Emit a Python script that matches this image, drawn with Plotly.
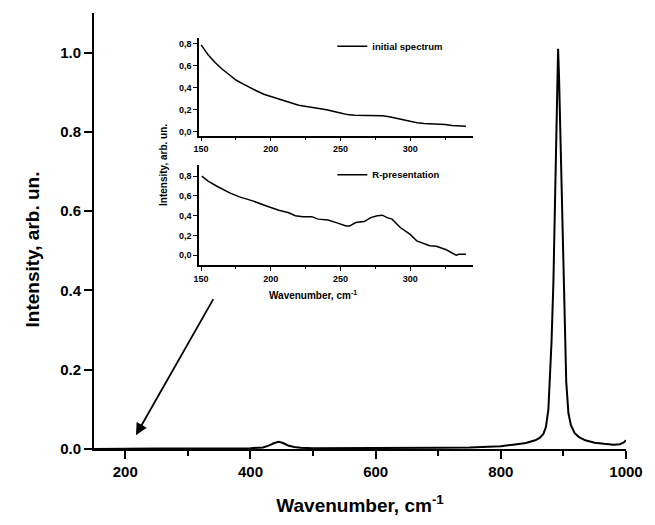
import plotly.graph_objects as go

# ---------------- data ----------------
# main spectrum
main_x = [150, 200, 250, 300, 350, 400, 420, 430, 438, 445, 452, 460, 470, 480, 500,
          550, 600, 650, 700, 750, 780, 800, 820, 840, 855, 862, 868, 872, 876,
          878, 881, 884, 886, 888, 890, 891.5, 893, 895, 897.5, 900, 902.5, 904.5,
          908, 912, 918, 925, 935, 950, 965, 980, 990, 996, 1000]
main_y = [0.000, 0.001, 0.001, 0.001, 0.001, 0.002, 0.004, 0.009, 0.015, 0.018, 0.015, 0.009, 0.005, 0.003, 0.002,
          0.002, 0.002, 0.002, 0.003, 0.004, 0.005, 0.007, 0.011, 0.015, 0.022, 0.028, 0.038, 0.055, 0.10,
          0.17, 0.27, 0.42, 0.58, 0.75, 0.92, 1.01, 0.94, 0.80, 0.60, 0.42, 0.27, 0.17,
          0.09, 0.06, 0.04, 0.03, 0.022, 0.016, 0.013, 0.011, 0.012, 0.016, 0.022]

# inset: initial spectrum
init_x = [150, 155, 160, 165, 170, 175, 180, 185, 190, 195, 200, 205, 210, 215, 220, 230,
          240, 250, 255, 260, 270, 280, 285, 290, 295, 300, 305, 310, 320, 325, 330, 335, 340]
init_y = [0.79, 0.70, 0.63, 0.57, 0.52, 0.47, 0.435, 0.40, 0.37, 0.34, 0.32, 0.295, 0.275, 0.255, 0.24, 0.22,
          0.20, 0.17, 0.155, 0.15, 0.148, 0.145, 0.135, 0.12, 0.105, 0.09, 0.082, 0.075, 0.07, 0.065, 0.055, 0.05, 0.05]

# inset: R-presentation
rp_x = [150.5, 155, 161, 165, 170.5, 177.5, 187, 196.4, 205.8, 212.9, 217.6, 223, 229.4, 234, 241, 247,
        254, 256.4, 261, 267, 271.7, 276.4, 280, 283.5, 287, 292.9, 300, 304.7, 309.4, 314,
        318.8, 325.9, 333, 335, 340]
rp_y = [0.80, 0.75, 0.70, 0.67, 0.63, 0.59, 0.55, 0.50, 0.455, 0.43, 0.40, 0.39, 0.39, 0.365, 0.355, 0.33,
        0.295, 0.295, 0.33, 0.34, 0.38, 0.40, 0.405, 0.38, 0.365, 0.28, 0.21, 0.145, 0.12, 0.095,
        0.09, 0.055, 0.0, 0.01, 0.01]

inset_yticks = [0.0, 0.2, 0.4, 0.6, 0.8]
inset_yticktext = ["0,0", "0,2", "0,4", "0,6", "0,8"]

FONT = "Liberation Sans"

fig = go.Figure()
fig.add_trace(go.Scatter(x=main_x, y=main_y, mode="lines", line=dict(color="black", width=2),
                         showlegend=False, xaxis="x", yaxis="y"))
fig.add_trace(go.Scatter(x=init_x, y=init_y, mode="lines", line=dict(color="black", width=1.5),
                         name="initial spectrum", legend="legend", xaxis="x2", yaxis="y2"))
fig.add_trace(go.Scatter(x=rp_x, y=rp_y, mode="lines", line=dict(color="black", width=1.5),
                         name="R-presentation", legend="legend2", xaxis="x3", yaxis="y3"))

main_axis = dict(showline=True, linecolor="black", linewidth=2, ticks="outside", ticklen=8,
                 tickwidth=2, tickcolor="black", showgrid=False, zeroline=False, mirror=False,
                 tickfont=dict(family=FONT, size=15, color="black", weight="bold"))

fig.update_layout(
    width=655, height=525, margin=dict(l=94, r=19, t=13, b=71),
    paper_bgcolor="white", plot_bgcolor="white",
    xaxis=dict(main_axis, range=[150, 1000], tick0=0, dtick=200,
               minor=dict(ticks="outside", dtick=100, ticklen=5, tickwidth=2, tickcolor="black"),
               title=dict(text="Wavenumber, cm<sup>-1</sup>", standoff=20,
                          font=dict(family=FONT, size=19, color="black", weight="bold"))),
    yaxis=dict(main_axis, range=[0, 1.1], tick0=0, dtick=0.2, tickformat=".1f"),
)

inset_axis = dict(showline=True, linecolor="black", linewidth=1.5, ticks="outside", ticklen=4,
                  tickwidth=1.2, tickcolor="black", showgrid=False, zeroline=False, mirror=False,
                  tickfont=dict(family=FONT, size=9, color="black", weight="bold"))
xd = [0.1974, 0.7122]
legend_font = dict(family=FONT, size=9.5, color="black", weight="bold")
fig.update_layout(
    xaxis2=dict(inset_axis, domain=xd, anchor="y2", range=[148.5, 345], tick0=150, dtick=50,
                minor=dict(ticks="outside", dtick=25, ticklen=2.5, tickwidth=1, tickcolor="black")),
    yaxis2=dict(inset_axis, domain=[0.7188, 0.9433], anchor="x2", range=[-0.036, 0.855],
                tickvals=inset_yticks, ticktext=inset_yticktext),
    xaxis3=dict(inset_axis, domain=xd, anchor="y3", range=[148.5, 345], tick0=150, dtick=50,
                minor=dict(ticks="outside", dtick=25, ticklen=2.5, tickwidth=1, tickcolor="black")),
    yaxis3=dict(inset_axis, domain=[0.4218, 0.6508], anchor="x3", range=[-0.1, 0.91],
                tickvals=inset_yticks, ticktext=inset_yticktext),
    legend=dict(x=0.448, y=0.924, xanchor="left", yanchor="middle", bgcolor="rgba(0,0,0,0)",
                font=legend_font, itemwidth=30, tracegroupgap=0),
    legend2=dict(x=0.448, y=0.629, xanchor="left", yanchor="middle", bgcolor="rgba(0,0,0,0)",
                 font=legend_font, itemwidth=30, tracegroupgap=0),
)

# main y-axis title
fig.add_annotation(text="Intensity, arb. un.", xref="paper", yref="paper", textangle=-90,
                   x=(31 - 94) / 542, y=(454 - 252) / 441, xanchor="center", yanchor="middle",
                   showarrow=False,
                   font=dict(family=FONT, size=19, color="black", weight="bold"))
# inset axis titles
fig.add_annotation(text="Wavenumber, cm<sup>-1</sup>", xref="paper", yref="paper",
                   x=(317 - 94) / 542, y=(454 - 298) / 441, xanchor="center", yanchor="middle",
                   showarrow=False,
                   font=dict(family=FONT, size=10, color="black", weight="bold"))
fig.add_annotation(text="Intensity, arb. un.", xref="paper", yref="paper", textangle=-90,
                   x=(165 - 94) / 542, y=(454 - 167) / 441, xanchor="center", yanchor="middle",
                   showarrow=False,
                   font=dict(family=FONT, size=10, color="black", weight="bold"))

# arrow pointing to the low-wavenumber region
fig.add_annotation(x=217, y=0.035, ax=342, ay=0.382, xref="x", yref="y", axref="x", ayref="y",
                   showarrow=True, arrowhead=2, arrowsize=1.3, arrowwidth=1.8, arrowcolor="black", text="")

fig.write_html("out.html")
